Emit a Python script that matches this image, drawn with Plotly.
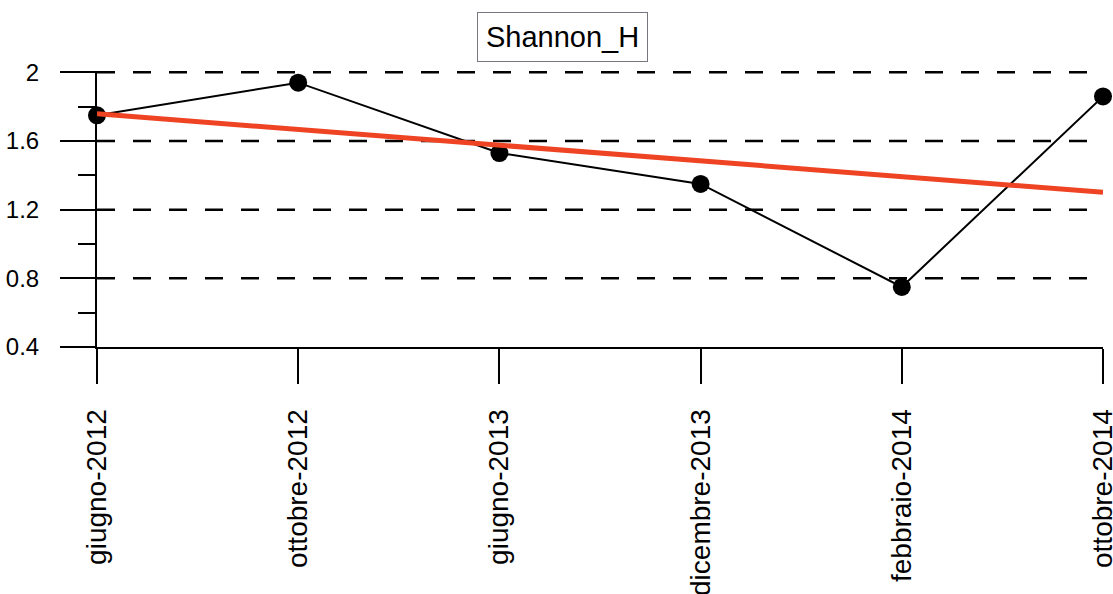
import numpy as np
import plotly.graph_objects as go

categories = ["giugno-2012", "ottobre-2012", "giugno-2013", "dicembre-2013", "febbraio-2014", "ottobre-2014"]
shannon_h = [1.75, 1.94, 1.53, 1.35, 0.75, 1.86]
y_tickvals = [0.4, 0.8, 1.2, 1.6, 2.0]
y_ticktext = ["0.4", "0.8", "1.2", "1.6", "2"]
grid_levels = [0.8, 1.2, 1.6, 2.0]
title_text = "Shannon_H"

# linear trend fitted to the series
idx = np.arange(len(shannon_h))
slope, intercept = np.polyfit(idx, shannon_h, 1)
trend_y = [intercept, intercept + slope * idx[-1]]

fig = go.Figure()
fig.add_trace(go.Scatter(
    x=categories, y=shannon_h, mode="lines+markers",
    line=dict(color="black", width=2),
    marker=dict(color="black", size=18),
    cliponaxis=False, showlegend=False,
))
fig.add_trace(go.Scatter(
    x=[categories[0], categories[-1]], y=trend_y, mode="lines",
    line=dict(color="#EF4424", width=5),
    cliponaxis=False, showlegend=False,
))

for g in grid_levels:
    fig.add_shape(type="line", xref="paper", yref="y", x0=0, x1=1, y0=g, y1=g,
                  line=dict(color="black", width=2.5, dash="18px,18px"), layer="below")

fig.update_layout(
    width=1113, height=594,
    margin=dict(l=97, r=10, t=71, b=247),
    paper_bgcolor="white", plot_bgcolor="white",
    font=dict(family="Liberation Sans, Arial, sans-serif", color="black"),
    annotations=[dict(
        text=title_text, xref="paper", yref="paper",
        x=0.4632, y=1.125, xanchor="center", yanchor="middle",
        showarrow=False, font=dict(size=29, color="black"),
        bordercolor="#77777f", borderwidth=1, borderpad=8, bgcolor="white",
    )],
)
fig.update_xaxes(
    type="category", range=[0, len(categories) - 1], automargin=False,
    showline=True, linecolor="black", linewidth=2,
    ticks="outside", ticklen=35, tickwidth=2, tickcolor="black",
    showgrid=False, zeroline=False,
    tickangle=-90, tickfont=dict(size=28), ticklabelstandoff=14,
)
fig.update_yaxes(
    range=[0.4, 2.008], automargin=False,
    tickvals=y_tickvals, ticktext=y_ticktext,
    showline=True, linecolor="black", linewidth=2,
    ticks="outside", ticklen=35, tickwidth=2, tickcolor="black",
    tickfont=dict(size=24), ticklabelstandoff=16,
    showgrid=False, zeroline=False,
    minor=dict(tickvals=[0.6, 1.0, 1.4, 1.8], ticks="outside", ticklen=17,
               tickwidth=2, tickcolor="black", showgrid=False),
)

fig.write_html("out.html")
